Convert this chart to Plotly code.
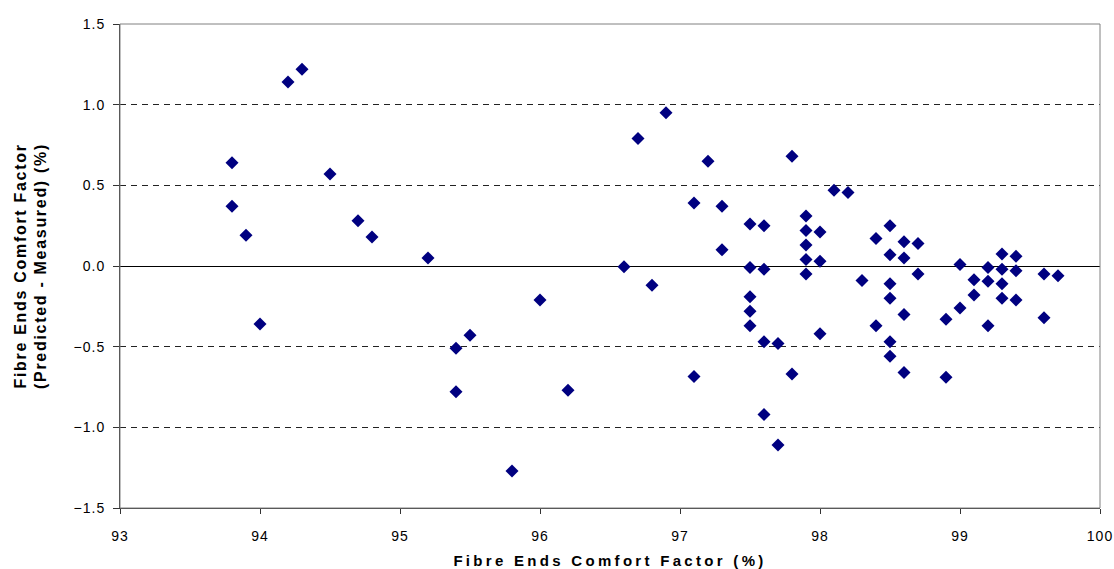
import plotly.graph_objects as go

# Fibre Ends Comfort Factor (%) and residual (Predicted - Measured) (%)
comfort_factor = [
    93.8, 93.8, 93.9, 94.0, 94.2, 94.3, 94.5, 94.7, 94.8, 95.2,
    95.4, 95.4, 95.5, 95.8, 96.0, 96.2, 96.6, 96.7, 96.8, 96.9,
    97.1, 97.1, 97.2, 97.3, 97.3, 97.5, 97.5, 97.5, 97.5, 97.5,
    97.6, 97.6, 97.6, 97.6, 97.7, 97.7, 97.8, 97.8, 97.9, 97.9,
    97.9, 97.9, 97.9, 98.0, 98.0, 98.0, 98.1, 98.2, 98.3, 98.4,
    98.4, 98.5, 98.5, 98.5, 98.5, 98.5, 98.5, 98.6, 98.6, 98.6,
    98.6, 98.7, 98.7, 98.9, 98.9, 99.0, 99.0, 99.1, 99.1, 99.2,
    99.2, 99.2, 99.3, 99.3, 99.3, 99.3, 99.4, 99.4, 99.4, 99.6,
    99.6, 99.7,
]
residual = [
    0.64, 0.37, 0.19, -0.36, 1.14, 1.22, 0.57, 0.28, 0.18, 0.05,
    -0.51, -0.78, -0.43, -1.27, -0.21, -0.77, -0.005, 0.79, -0.12, 0.95,
    0.39, -0.685, 0.65, 0.37, 0.10, 0.26, -0.01, -0.19, -0.28, -0.37,
    0.25, -0.02, -0.47, -0.92, -0.48, -1.11, 0.68, -0.67, 0.31, 0.22,
    0.13, 0.04, -0.05, 0.21, 0.03, -0.42, 0.47, 0.455, -0.09, 0.17,
    -0.37, 0.25, 0.07, -0.11, -0.20, -0.47, -0.56, 0.15, 0.05, -0.30,
    -0.66, 0.14, -0.05, -0.33, -0.69, 0.01, -0.26, -0.085, -0.18, -0.01,
    -0.095, -0.37, 0.075, -0.02, -0.11, -0.20, 0.06, -0.03, -0.21, -0.05,
    -0.32, -0.06,
]

x_title = "Fibre Ends Comfort Factor (%)"
y_title = "Fibre Ends Comfort Factor<br>(Predicted - Measured) (%)"

FONT = "Liberation Sans, Arial, sans-serif"

fig = go.Figure()
fig.add_trace(go.Scatter(
    x=comfort_factor, y=residual, mode="markers",
    marker=dict(symbol="diamond", size=10, color="#000080", line=dict(width=0)),
    showlegend=False, hoverinfo="x+y",
))

fig.update_layout(
    width=1114, height=569,
    margin=dict(l=120, r=14, t=24, b=61, autoexpand=False),
    paper_bgcolor="white", plot_bgcolor="white",
    font=dict(family=FONT, size=14, color="black"),
    shapes=[dict(type="rect", xref="paper", yref="paper", x0=0, x1=1, y0=0, y1=1,
                 line=dict(color="#808080", width=1), layer="above")],
)

fig.update_xaxes(
    range=[93, 100], dtick=1, tick0=93, automargin=False,
    showgrid=False, zeroline=False,
    showline=True, linecolor="#333333", linewidth=1,
    ticks="outside", ticklen=5, tickcolor="#333333",
    tickfont=dict(family=FONT, size=14, color="black"),
    ticklabelstandoff=10,
    title=dict(text=x_title, font=dict(family=FONT, size=15, color="black", weight="bold"),
               standoff=16),
)
fig.update_yaxes(
    range=[-1.5, 1.5], dtick=0.5, tick0=0, tickformat=".1f", automargin=False,
    showgrid=True, gridcolor="#222222", gridwidth=1, griddash="6px,5px",
    zeroline=True, zerolinecolor="black", zerolinewidth=1,
    showline=True, linecolor="#333333", linewidth=1,
    ticks="outside", ticklen=6, tickcolor="#333333",
    tickfont=dict(family=FONT, size=14, color="black"),
    ticklabelstandoff=5,
    title=dict(text=y_title, font=dict(family=FONT, size=16, color="black", weight="bold"),
               standoff=26),
)

post = """
document.body.style.margin='0';
document.querySelectorAll('.xtitle').forEach(function(e){ e.style.letterSpacing='3.3px'; });
document.querySelectorAll('.ytitle').forEach(function(e){ e.style.letterSpacing='1.7px'; });
document.querySelectorAll('.xtick text, .ytick text').forEach(function(e){ e.style.letterSpacing='1px'; });
"""

fig.write_html("out.html", post_script=post, config={"displayModeBar": False})
